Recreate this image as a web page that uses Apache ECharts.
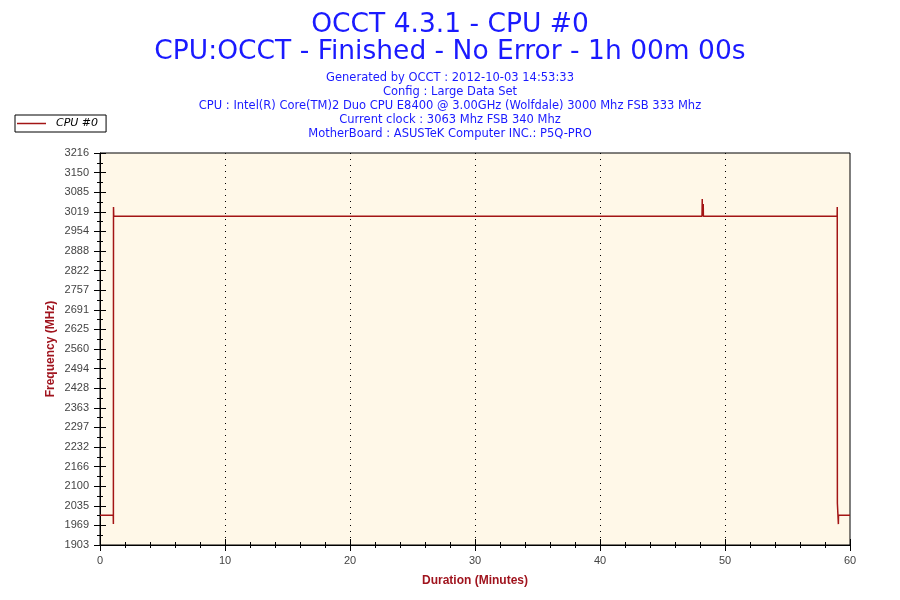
<!DOCTYPE html>
<html>
<head>
<meta charset="utf-8">
<script src="https://cdn.jsdelivr.net/npm/echarts@6/dist/echarts.min.js"></script>
<style>html,body{margin:0;padding:0;background:#fff}#c{width:900px;height:600px}</style>
</head>
<body>
<div id="c"></div>
<script>
// ---- data ----
const titleLines = ["OCCT 4.3.1 - CPU #0", "CPU:OCCT - Finished - No Error - 1h 00m 00s"];
const infoLines = [
  "Generated by OCCT : 2012-10-03 14:53:33",
  "Config : Large Data Set",
  "CPU : Intel(R) Core(TM)2 Duo CPU E8400 @ 3.00GHz (Wolfdale) 3000 Mhz FSB 333 Mhz",
  "Current clock : 3063 Mhz FSB 340 Mhz",
  "MotherBoard : ASUSTeK Computer INC.: P5Q-PRO"
];
const seriesName = "CPU #0";
const yTickLabels = [1903,1969,2035,2100,2166,2232,2297,2363,2428,2494,2560,2625,2691,2757,2822,2888,2954,3019,3085,3150,3216];
const xTicks = [0,10,20,30,40,50,60];
// minutes
const timeMin = [
  0, 1.06, 1.07, 1.08, 1.10,
  5.36, 5.38, 5.40,
  8.68, 8.70, 8.72,
  9.02, 9.04, 9.06,
  11.76, 11.78, 11.80,
  16.72, 16.74, 16.76,
  19.84, 19.86, 19.88,
  21.60, 21.62, 21.64,
  24.72, 24.74, 24.76,
  27.28, 27.30, 27.32,
  33.12, 33.14, 33.16,
  34.16, 34.18, 34.20,
  37.36, 37.38, 37.40,
  42.16, 42.18, 42.20,
  42.98, 43.00, 43.02,
  46.48, 46.50, 46.52,
  48.16, 48.18, 48.19, 48.25, 48.26, 48.27,
  58.46, 58.48, 58.50,
  58.97, 58.98, 58.99, 59.06, 59.07, 59.08, 60
];
// MHz
const freqMHz = [
  2003, 2003, 1973, 3035, 3004,
  3004, 3007, 3004,
  3004, 3007, 3004,
  3004, 3007, 3004,
  3004, 3007, 3004,
  3004, 3007, 3004,
  3004, 3007, 3004,
  3004, 3007, 3004,
  3004, 3007, 3004,
  3004, 3007, 3004,
  3004, 3007, 3004,
  3004, 3007, 3004,
  3004, 3007, 3004,
  3004, 3007, 3004,
  3004, 3007, 3004,
  3004, 3007, 3004,
  3004, 3062, 3004, 3004, 3045, 3004,
  3004, 3007, 3004,
  3004, 3035, 2043, 2043, 1973, 2003, 2003
];

const yMin = yTickLabels[0], yMax = yTickLabels[yTickLabels.length - 1];
const yStep = (yMax - yMin) / (yTickLabels.length - 1);
const seriesData = timeMin.map((t, i) => [t, freqMHz[i]]);

const lineColor = '#A31515';
const labelRed = '#A0141E';
const blue = '#1A1AFF';
const font = 'Liberation Sans, Arial, sans-serif';
const tahomaLike = 'DejaVu Sans, Verdana, sans-serif';

const yLabelFmt = v => {
  const i = Math.round((v - yMin) / yStep);
  return (i >= 0 && i < yTickLabels.length) ? String(yTickLabels[i]) : '';
};

const titles = [
  {text: titleLines[0], left: 'center', top: 7,
   textStyle: {color: blue, fontSize: 26.5, fontWeight: 'normal', fontFamily: tahomaLike}},
  {text: titleLines[1], left: 'center', top: 34,
   textStyle: {color: blue, fontSize: 26.5, fontWeight: 'normal', fontFamily: tahomaLike}}
];
infoLines.forEach((s, i) => titles.push({
  text: s, left: 'center', top: 67 + i * 14,
  textStyle: {color: blue, fontSize: 11.5, fontWeight: 'normal', fontFamily: tahomaLike}
}));

const chart = echarts.init(document.getElementById('c'), null, {renderer: 'canvas'});
chart.setOption({
  animation: false,
  backgroundColor: '#ffffff',
  title: titles,
  legend: {
    left: 15, top: 115,
    data: [{name: seriesName, icon: 'rect'}],
    itemWidth: 29, itemHeight: 1.5,
    padding: [3, 8, 3, 2],
    borderColor: '#000', borderWidth: 1,
    textStyle: {fontStyle: 'italic', fontSize: 11, color: '#000', fontFamily: tahomaLike, padding: [0, 0, 0, 5]},
    selectedMode: false
  },
  grid: {
    left: 100, right: 50, top: 153, bottom: 55,
    show: true, backgroundColor: '#FFF8E8', borderColor: '#000', borderWidth: 1
  },
  xAxis: [
    {
      type: 'value', min: 0, max: 60, interval: 10,
      name: 'Duration (Minutes)', nameLocation: 'middle', nameGap: 30, nameMoveOverlap: false,
      nameTextStyle: {color: labelRed, fontWeight: 'bold', fontSize: 12, fontFamily: font},
      axisLine: {show: true, lineStyle: {color: '#000', width: 1}},
      axisTick: {show: true, length: 6, lineStyle: {color: '#000'}},
      minorTick: {show: true, splitNumber: 5, length: 3, lineStyle: {color: '#000'}},
      axisLabel: {color: '#444', fontSize: 11, margin: 10, fontFamily: font,
                  formatter: v => xTicks.includes(v) ? String(v) : ''},
      splitLine: {show: true, showMinLine: false, showMaxLine: false,
                  lineStyle: {color: '#000', type: [1, 5], width: 1}},
      minorSplitLine: {show: false}
    },
    {
      type: 'value', min: 0, max: 60, interval: 10, position: 'bottom', offset: 0,
      axisLine: {show: false},
      axisTick: {show: true, inside: true, length: 6, lineStyle: {color: '#000'}},
      minorTick: {show: true, splitNumber: 5, length: 3, lineStyle: {color: '#000'}},
      axisLabel: {show: false}, splitLine: {show: false}
    }
  ],
  yAxis: [
    {
      type: 'value', min: yMin, max: yMax, interval: yStep,
      name: 'Frequency (MHz)', nameLocation: 'middle', nameGap: 43, nameMoveOverlap: false,
      nameTextStyle: {color: labelRed, fontWeight: 'bold', fontSize: 12, fontFamily: font},
      axisLine: {show: true, lineStyle: {color: '#000', width: 1}},
      axisTick: {show: true, length: 6, lineStyle: {color: '#000'}},
      minorTick: {show: true, splitNumber: 2, length: 3, lineStyle: {color: '#000'}},
      axisLabel: {color: '#444', fontSize: 11, margin: 11, fontFamily: font, formatter: yLabelFmt},
      splitLine: {show: false}
    },
    {
      type: 'value', min: yMin, max: yMax, interval: yStep, position: 'left', offset: 0,
      axisLine: {show: false},
      axisTick: {show: true, inside: true, length: 6, lineStyle: {color: '#000'}},
      minorTick: {show: true, splitNumber: 2, length: 3, lineStyle: {color: '#000'}},
      axisLabel: {show: false}, splitLine: {show: false}
    }
  ],
  series: [{
    name: seriesName, type: 'line', xAxisIndex: 0, yAxisIndex: 0,
    data: seriesData, showSymbol: false, symbol: 'none',
    lineStyle: {color: lineColor, width: 1.5},
    itemStyle: {color: lineColor}
  }]
});
</script>
</body>
</html>
